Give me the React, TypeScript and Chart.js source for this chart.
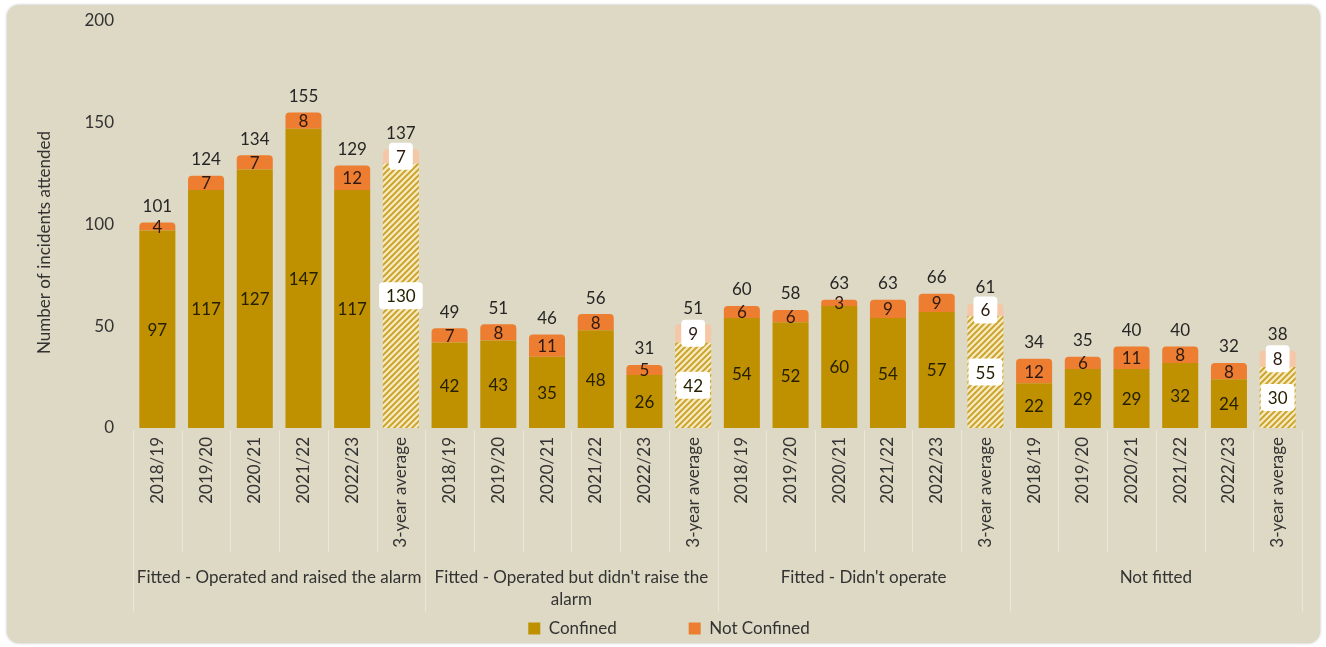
import { useEffect, useRef } from "react";
import { Chart, registerables } from "chart.js";

Chart.register(...registerables);

const groups = [
  "Fitted - Operated and raised the alarm",
  "Fitted - Operated but didn't raise the alarm",
  "Fitted - Didn't operate",
  "Not fitted",
];
const periods = ["2018/19", "2019/20", "2020/21", "2021/22", "2022/23", "3-year average"];
const confined = [97, 117, 127, 147, 117, 130, 42, 43, 35, 48, 26, 42, 54, 52, 60, 54, 57, 55, 22, 29, 29, 32, 24, 30];
const notConfined = [4, 7, 7, 8, 12, 7, 7, 8, 11, 8, 5, 9, 6, 6, 3, 9, 9, 6, 12, 6, 11, 8, 8, 8];
const totals = [101, 124, 134, 155, 129, 137, 49, 51, 46, 56, 31, 51, 60, 58, 63, 63, 66, 61, 34, 35, 40, 40, 32, 38];
const yTicks = [0, 50, 100, 150, 200];
const yTitle = "Number of incidents attended";
const seriesNames = ["Confined", "Not Confined"];

const FONT = "Lato, 'DejaVu Sans', sans-serif";
const FS = 17;
const GOLD = "#BF9000";
const ORANGE = "#ED7D31";
const PEACH = "#F6C7A6";
const TEXT = "#333333";

const isAvg = (i: number | undefined) =>
  typeof i === "number" && periods[i % periods.length] === "3-year average";

function makeHatch(): CanvasPattern | string {
  const c = document.createElement("canvas");
  c.width = 6;
  c.height = 6;
  const x = c.getContext("2d");
  if (!x) return "#E8D48A";
  x.fillStyle = "#F4E8BC";
  x.fillRect(0, 0, 6, 6);
  x.strokeStyle = "#C9A024";
  x.lineWidth = 1.8;
  x.beginPath();
  x.moveTo(-1, 7);
  x.lineTo(7, -1);
  x.moveTo(-1, 1);
  x.lineTo(1, -1);
  x.moveTo(5, 7);
  x.lineTo(7, 5);
  x.stroke();
  return x.createPattern(c, "repeat") || "#E8D48A";
}

function roundRect(ctx: CanvasRenderingContext2D, x: number, y: number, w: number, h: number, r: number) {
  ctx.beginPath();
  ctx.moveTo(x + r, y);
  ctx.lineTo(x + w - r, y);
  ctx.quadraticCurveTo(x + w, y, x + w, y + r);
  ctx.lineTo(x + w, y + h - r);
  ctx.quadraticCurveTo(x + w, y + h, x + w - r, y + h);
  ctx.lineTo(x + r, y + h);
  ctx.quadraticCurveTo(x, y + h, x, y + h - r);
  ctx.lineTo(x, y + r);
  ctx.quadraticCurveTo(x, y, x + r, y);
  ctx.closePath();
}

function wrap(ctx: CanvasRenderingContext2D, text: string, maxW: number): string[] {
  const words = text.split(" ");
  const lines: string[] = [];
  let cur = "";
  for (const w of words) {
    const t = cur ? cur + " " + w : w;
    if (ctx.measureText(t).width > maxW && cur) {
      lines.push(cur);
      cur = w;
    } else cur = t;
  }
  if (cur) lines.push(cur);
  return lines;
}

const barLabels = {
  id: "barLabels",
  afterDatasetsDraw(chart: any) {
    const ctx: CanvasRenderingContext2D = chart.ctx;
    ctx.save();
    ctx.font = `${FS}px ${FONT}`;
    ctx.textAlign = "center";
    ctx.textBaseline = "middle";
    [0, 1].forEach((di) => {
      const meta = chart.getDatasetMeta(di);
      const data = chart.data.datasets[di].data as number[];
      meta.data.forEach((el: any, i: number) => {
        const { x, y, base } = el.getProps(["x", "y", "base"], true);
        const cy = (y + base) / 2;
        const text = String(data[i]);
        if (isAvg(i)) {
          const tw = ctx.measureText(text).width;
          ctx.fillStyle = "#FFFFFF";
          roundRect(ctx, x - tw / 2 - 7, cy - 13.5, tw + 14, 27, 4);
          ctx.fill();
        }
        ctx.fillStyle = di === 0 ? "#262000" : "#2E1A10";
        ctx.fillText(text, x, cy + 1);
      });
    });
    const topMeta = chart.getDatasetMeta(1);
    ctx.fillStyle = "#262626";
    topMeta.data.forEach((el: any, i: number) => {
      const { x, y } = el.getProps(["x", "y"], true);
      ctx.fillText(String(totals[i]), x, y - 16);
    });
    ctx.restore();
  },
};

const groupAxis = {
  id: "groupAxis",
  afterDraw(chart: any) {
    const ctx: CanvasRenderingContext2D = chart.ctx;
    const xs = chart.scales.x;
    const area = chart.chartArea;
    const n = periods.length;
    const count = chart.data.labels.length;
    const step = xs.getPixelForValue(1) - xs.getPixelForValue(0);
    ctx.save();
    ctx.strokeStyle = "rgba(255,255,255,0.38)";
    ctx.lineWidth = 1;
    for (let i = 0; i <= count; i++) {
      const px = Math.round(xs.getPixelForValue(0) - step / 2 + i * step) + 0.5;
      const end = i % n === 0 ? area.bottom + 184 : area.bottom + 124;
      ctx.beginPath();
      ctx.moveTo(px, area.bottom + 2);
      ctx.lineTo(px, end);
      ctx.stroke();
    }
    ctx.font = `${FS}px ${FONT}`;
    ctx.fillStyle = TEXT;
    ctx.textAlign = "center";
    ctx.textBaseline = "middle";
    groups.forEach((g, gi) => {
      const left = xs.getPixelForValue(gi * n) - step / 2;
      const cx = left + (step * n) / 2;
      const lines = wrap(ctx, g, step * n - 4);
      lines.forEach((ln, li) => ctx.fillText(ln, cx, area.bottom + 150 + li * 22));
    });
    // y axis title
    ctx.translate(area.left - 88, (area.top + area.bottom) / 2 + 18);
    ctx.rotate(-Math.PI / 2);
    ctx.fillText(yTitle, 0, 0);
    ctx.restore();
  },
};

export default function App() {
  const ref = useRef<HTMLCanvasElement | null>(null);
  useEffect(() => {
    if (!ref.current) return;
    const hatch = makeHatch();
    const labels: string[] = [];
    groups.forEach(() => periods.forEach((p) => labels.push(p)));
    const chart = new Chart(ref.current, {
      type: "bar",
      data: {
        labels,
        datasets: [
          {
            label: seriesNames[0],
            data: confined,
            backgroundColor: (c: any) => (isAvg(c.dataIndex) ? hatch : GOLD),
            borderWidth: 0,
            borderRadius: 0,
            barPercentage: 0.74,
            categoryPercentage: 1,
          },
          {
            label: seriesNames[1],
            data: notConfined,
            backgroundColor: (c: any) => (isAvg(c.dataIndex) ? PEACH : ORANGE),
            borderWidth: 0,
            borderRadius: { topLeft: 4, topRight: 4, bottomLeft: 0, bottomRight: 0 },
            barPercentage: 0.74,
            categoryPercentage: 1,
          },
        ],
      },
      options: {
        responsive: false,
        animation: false,
        layout: { padding: { top: 21, left: 12, right: 0, bottom: 0 } },
        scales: {
          x: {
            stacked: true,
            grid: { display: false, drawTicks: false },
            border: { display: false },
            ticks: {
              autoSkip: false,
              minRotation: 90,
              maxRotation: 90,
              padding: 9,
              color: TEXT,
              font: { family: FONT, size: FS },
            },
            afterFit: (s: any) => {
              s.height = 120;
              s.paddingLeft = 0;
              s.paddingRight = 0;
            },
          },
          y: {
            stacked: true,
            min: yTicks[0],
            max: yTicks[yTicks.length - 1],
            grid: { display: false, drawTicks: false },
            border: { display: false },
            afterBuildTicks: (s: any) => {
              s.ticks = yTicks.map((v) => ({ value: v }));
            },
            ticks: { padding: 19, color: TEXT, font: { family: FONT, size: FS } },
            afterFit: (s: any) => {
              s.width = 121;
              s.paddingTop = 0;
              s.paddingBottom = 0;
            },
          },
          yRight: {
            position: "right",
            display: true,
            grid: { display: false, drawTicks: false },
            border: { display: false },
            ticks: { display: false },
            afterFit: (s: any) => {
              s.width = 24;
              s.paddingTop = 0;
              s.paddingBottom = 0;
            },
          },
        },
        plugins: {
          legend: {
            position: "bottom",
            labels: {
              boxWidth: 12,
              boxHeight: 12,
              padding: 72,
              color: TEXT,
              font: { family: FONT, size: FS },
            },
          },
          tooltip: { enabled: false },
        },
      },
      plugins: [barLabels, groupAxis],
    });
    return () => chart.destroy();
  }, []);

  return (
    <div style={{ position: "fixed", left: 0, top: 0, width: 1326, height: 647, background: "#FFFFFF", overflow: "hidden" }}>
      <div
        style={{
          position: "absolute",
          left: 7,
          top: 5,
          width: 1313,
          height: 638,
          borderRadius: 12,
          background: "#DDD9C4",
          boxShadow: "0 0 3px rgba(0,0,0,0.28)",
        }}
      />
      <canvas ref={ref} width={1326} height={647} style={{ position: "absolute", left: 0, top: 0, display: "block" }} />
    </div>
  );
}
